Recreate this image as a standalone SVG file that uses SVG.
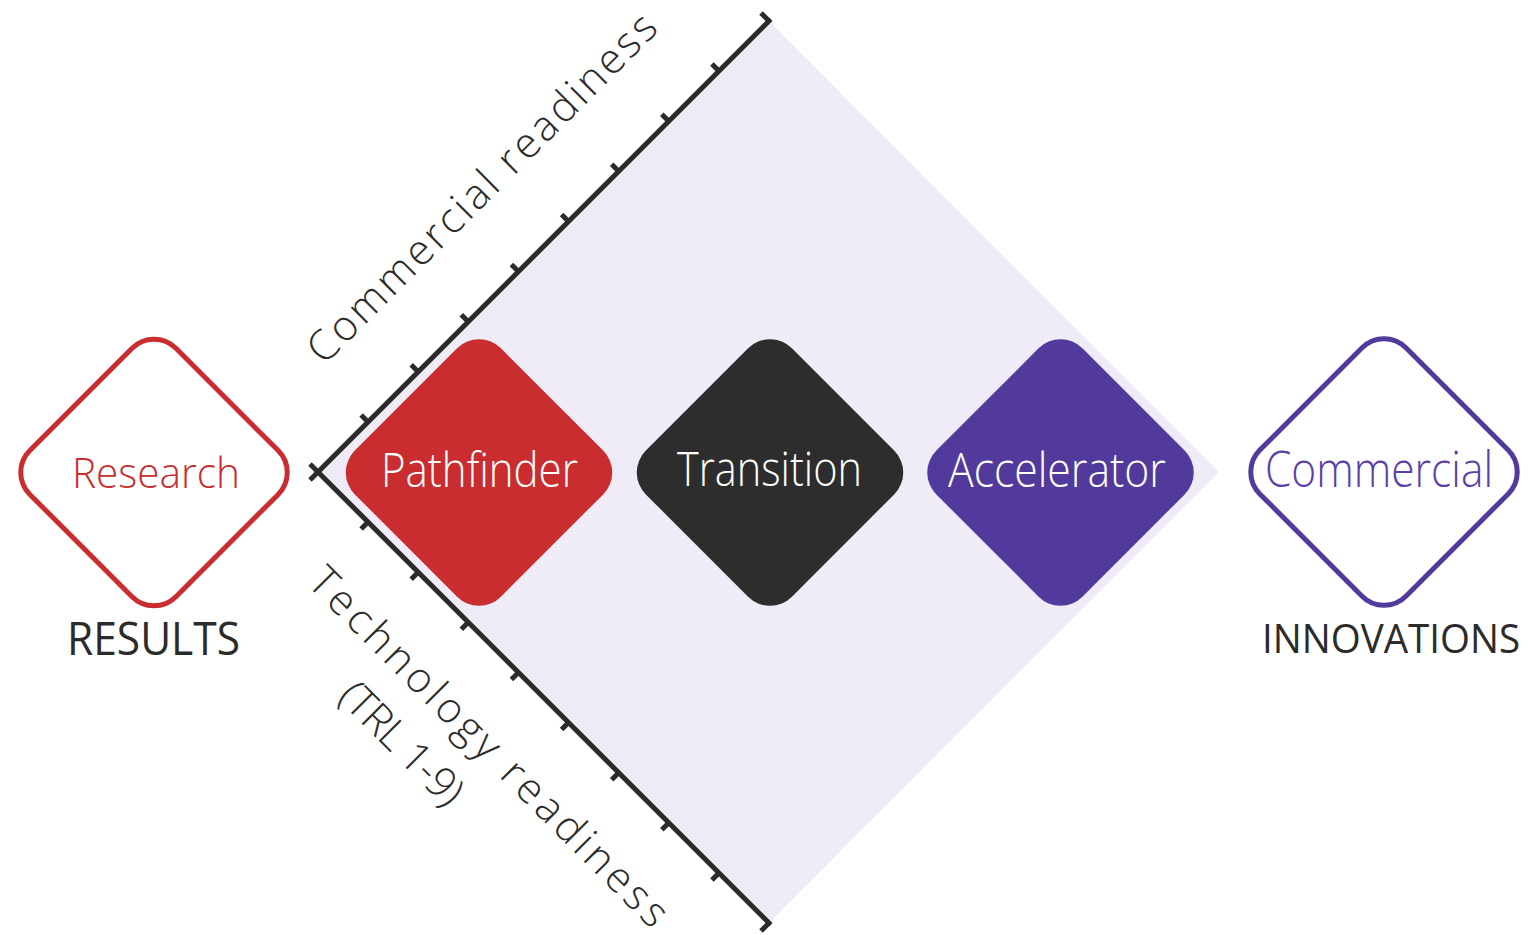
<svg xmlns="http://www.w3.org/2000/svg" width="1528" height="935" viewBox="0 0 1528 935">
<style>
.lbl{font-family:"Open Sans","Noto Sans","Liberation Sans",sans-serif;font-weight:300;}
.cap{font-family:"Open Sans","Noto Sans","Liberation Sans",sans-serif;font-weight:400;fill:#2b2b2b;}
.axis{stroke:#2b2b2b;stroke-width:5;fill:none;stroke-linecap:square;}
.tick{stroke:#2b2b2b;stroke-width:5;stroke-linecap:butt;}
</style>
<defs>
<rect id="rd" x="-103.3" y="-103.3" width="206.6" height="206.6" rx="31" ry="31" transform="rotate(45)"/>
</defs>
<rect width="1528" height="935" fill="#ffffff"/>
<g id="field">
<polygon points="318,472 769,21 1219,472 769,923" fill="#efecf8"/>
</g>
<g id="connectors">
<polyline class="axis" points="769,21 318,472 769,923"/>
<g class="tick">
<line x1="318" y1="472" x2="310" y2="464"/>
<line x1="368.1" y1="421.9" x2="361.1" y2="414.9"/>
<line x1="418.2" y1="371.8" x2="411.2" y2="364.8"/>
<line x1="468.3" y1="321.7" x2="461.3" y2="314.7"/>
<line x1="518.4" y1="271.6" x2="511.4" y2="264.6"/>
<line x1="568.6" y1="221.4" x2="561.6" y2="214.4"/>
<line x1="618.7" y1="171.3" x2="611.7" y2="164.3"/>
<line x1="668.8" y1="121.2" x2="661.8" y2="114.2"/>
<line x1="718.9" y1="71.1" x2="711.9" y2="64.1"/>
<line x1="770" y1="22" x2="761" y2="13"/>
<line x1="318" y1="472" x2="310" y2="480"/>
<line x1="368.1" y1="522.1" x2="361.1" y2="529.1"/>
<line x1="418.2" y1="572.2" x2="411.2" y2="579.2"/>
<line x1="468.3" y1="622.3" x2="461.3" y2="629.3"/>
<line x1="518.4" y1="672.4" x2="511.4" y2="679.4"/>
<line x1="568.6" y1="722.6" x2="561.6" y2="729.6"/>
<line x1="618.7" y1="772.7" x2="611.7" y2="779.7"/>
<line x1="668.8" y1="822.8" x2="661.8" y2="829.8"/>
<line x1="718.9" y1="872.9" x2="711.9" y2="879.9"/>
<line x1="770" y1="922" x2="761" y2="931"/>
</g>
</g>
<g id="axis-labels" class="lbl" fill="#2b2b2b" font-size="42">
<text transform="translate(324,366) rotate(-45)" textLength="475" lengthAdjust="spacing">Commercial readiness</text>
<text transform="translate(306,584) rotate(45)" textLength="489" lengthAdjust="spacing">Technology readiness</text>
<text transform="translate(336.5,698.5) rotate(45)" textLength="156" lengthAdjust="spacing">(TRL 1-9)</text>
</g>
<g id="research">
<use href="#rd" transform="translate(154,472.5)" fill="none" stroke="#c92d30" stroke-width="5"/>
<text class="lbl" x="156" y="488" font-size="43" fill="#c92d30" text-anchor="middle" textLength="168" lengthAdjust="spacingAndGlyphs">Research</text>
<text class="cap" x="153.5" y="655" font-size="45" text-anchor="middle" textLength="173" lengthAdjust="spacingAndGlyphs">RESULTS</text>
</g>
<g id="pathfinder">
<use href="#rd" transform="translate(479,472.5)" fill="#c92d30"/>
<text class="lbl" x="479.5" y="487" font-size="47" fill="#ffffff" text-anchor="middle" textLength="197" lengthAdjust="spacingAndGlyphs">Pathfinder</text>
</g>
<g id="transition">
<use href="#rd" transform="translate(770,472.5)" fill="#2d2d2d"/>
<text class="lbl" x="769.5" y="486" font-size="47" fill="#ffffff" text-anchor="middle" textLength="185" lengthAdjust="spacingAndGlyphs">Transition</text>
</g>
<g id="accelerator">
<use href="#rd" transform="translate(1060.5,472.5)" fill="#52399c"/>
<text class="lbl" x="1057" y="487" font-size="47" fill="#ffffff" text-anchor="middle" textLength="218" lengthAdjust="spacingAndGlyphs">Accelerator</text>
</g>
<g id="commercial">
<use href="#rd" transform="translate(1384,472)" fill="none" stroke="#52399c" stroke-width="5"/>
<text class="lbl" x="1379" y="487" font-size="49" fill="#5a40a8" text-anchor="middle" textLength="228" lengthAdjust="spacingAndGlyphs">Commercial</text>
<text class="cap" x="1391" y="653" font-size="40" text-anchor="middle" textLength="258" lengthAdjust="spacingAndGlyphs">INNOVATIONS</text>
</g>
</svg>
